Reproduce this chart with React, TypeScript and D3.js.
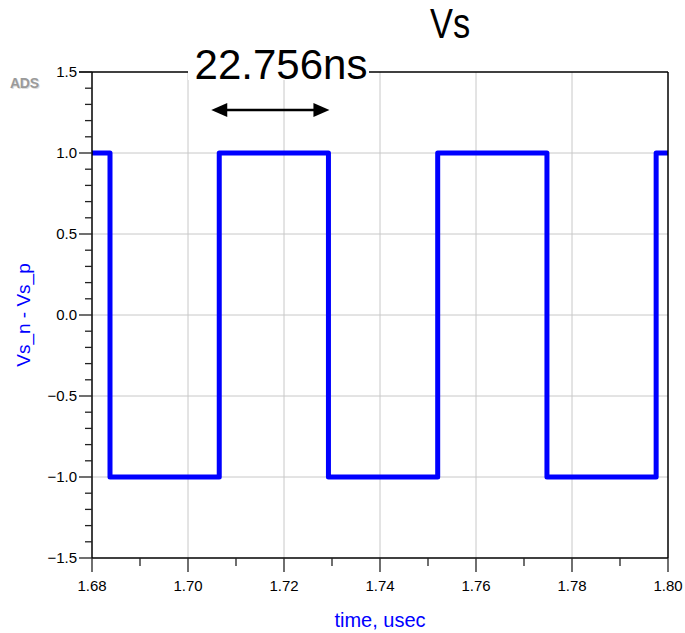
import React from "react";
import * as d3 from "d3";

const edgeTimes = [1.68, 1.68375, 1.70651, 1.72926, 1.75202, 1.77478, 1.79753];
const levels = [1, -1, 1, -1, 1, -1, 1];
const xEnd = 1.8;

const xMajor = [1.68, 1.7, 1.72, 1.74, 1.76, 1.78, 1.8];
const xMinor = [1.69, 1.71, 1.73, 1.75, 1.77, 1.79];
const yMajor = [-1.5, -1.0, -0.5, 0.0, 0.5, 1.0, 1.5];

const titleText = "Vs";
const yLabel = "Vs_n - Vs_p";
const xLabel = "time, usec";
const markerText = "22.756ns";
// marker arrow spans one half period
const markerFrom = 1.70651;
const markerTo = 1.72926;

const W = 685;
const H = 633;
const left = 92;
const right = 668;
const top = 72;
const bottom = 558;
const font = "'Liberation Sans', Arial, sans-serif";

const App = () => {
    const x = d3.scaleLinear().domain([1.68, 1.8]).range([left, right]);
    const y = d3.scaleLinear().domain([-1.5, 1.5]).range([bottom, top]);

    const yMinor = d3.range(-15, 16).map(d => d / 10).filter(d => Math.abs((d * 2) % 1) > 1e-6);

    const pts: [number, number][] = edgeTimes.map((t, i) => [t, levels[i]]);
    pts.push([xEnd, levels[levels.length - 1]]);
    const line = d3.line<[number, number]>()
        .x(d => x(d[0]))
        .y(d => y(d[1]))
        .curve(d3.curveStepAfter);

    const fx = d3.format(".2f");
    const fy = d3.format(".1f");

    const ay = 110;
    const ax1 = x(markerFrom) - 8;
    const ax2 = x(markerTo) + 1;

    return (
        <svg width={W} height={H} style={{position: "absolute", left: 0, top: 0}} fontFamily={font}>
            <rect width={W} height={H} fill="#fff"/>
            <g className="grid" stroke="#c8c8c8" strokeWidth={1}>
                {xMajor.slice(1, -1).map(d => (
                    <line key={"gx" + d} x1={x(d)} x2={x(d)} y1={top} y2={bottom}/>
                ))}
                {yMajor.slice(1, -1).map(d => (
                    <line key={"gy" + d} x1={left} x2={right} y1={y(d)} y2={y(d)}/>
                ))}
            </g>
            <path d={line(pts) || ""} fill="none" stroke="#0000ff" strokeWidth={5} strokeLinejoin="round"/>

            <g className="frame" stroke="#000" strokeWidth={1.5} fill="none">
                <line x1={right} x2={right} y1={top} y2={bottom}/>
                <line x1={left - 13} x2={right} y1={top} y2={top}/>
                <line x1={left} x2={left} y1={top} y2={bottom}/>
                <line x1={left} x2={right} y1={bottom} y2={bottom}/>
            </g>
            <g className="left-ticks" stroke="#222" strokeWidth={1.3}>
                {yMajor.map(d => (
                    <line key={"ty" + d} x1={left - 13} x2={left} y1={y(d)} y2={y(d)}/>
                ))}
                {yMinor.map(d => (
                    <line key={"my" + d} x1={left - 7} x2={left} y1={y(d)} y2={y(d)}/>
                ))}
            </g>
            <g className="bottom-ticks" stroke="#222" strokeWidth={1.3}>
                {xMajor.map(d => (
                    <line key={"tx" + d} x1={x(d)} x2={x(d)} y1={bottom} y2={bottom + 14}/>
                ))}
                {xMinor.map(d => (
                    <line key={"mx" + d} x1={x(d)} x2={x(d)} y1={bottom} y2={bottom + 8}/>
                ))}
            </g>
            <g fontSize={15} fill="#000">
                {yMajor.map(d => (
                    <text key={"ly" + d} x={left - 15} y={y(d) + 5} textAnchor="end">{fy(d)}</text>
                ))}
                {xMajor.map(d => (
                    <text key={"lx" + d} x={x(d)} y={591} textAnchor="middle">{fx(d)}</text>
                ))}
            </g>

            <text x={380} y={627} fontSize={20} fill="#0000ff" textAnchor="middle">{xLabel}</text>
            <text transform="translate(30,315) rotate(-90)" fontSize={19} fill="#0000ff" textAnchor="middle">{yLabel}</text>
            <text transform="translate(450,38) scale(0.8,1)" fontSize={43} fill="#000" textAnchor="middle">{titleText}</text>

            <rect x={188} y={50} width={181} height={30} fill="#fff"/>
            <text x={281} y={79} fontSize={42} fill="#000" textAnchor="middle">{markerText}</text>

            <g className="marker">
                <line x1={ax1 + 12} x2={ax2 - 12} y1={ay} y2={ay} stroke="#000" strokeWidth={2.5}/>
                <path d={`M${ax1},${ay} L${ax1 + 16},${ay - 7} L${ax1 + 16},${ay + 7} Z`} fill="#000"/>
                <path d={`M${ax2},${ay} L${ax2 - 16},${ay - 7} L${ax2 - 16},${ay + 7} Z`} fill="#000"/>
            </g>

            <text x={11} y={89} fontSize={14} fontWeight="bold" fill="#ddd" textLength={29}>ADS</text>
            <text x={10} y={88} fontSize={14} fontWeight="bold" fill="#9a9a9a" textLength={29}>ADS</text>
            <text x={151} y={643} fontSize={15} fill="#0000ff">1</text>
        </svg>
    );
};

export default App;
